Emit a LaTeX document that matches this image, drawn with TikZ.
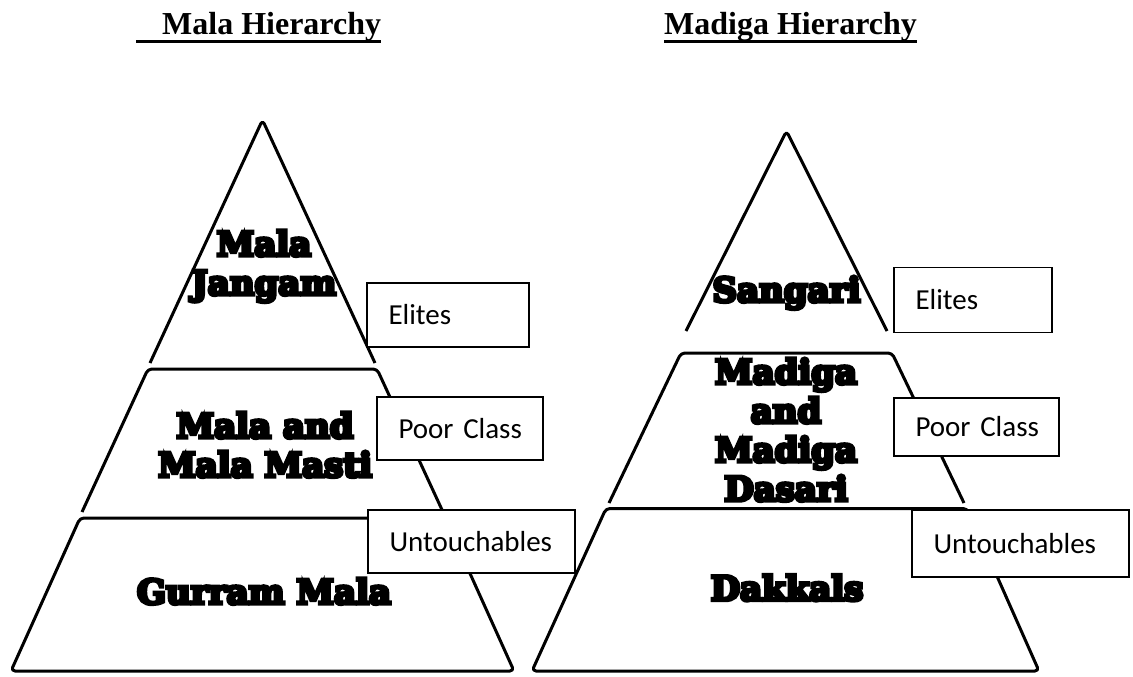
\documentclass[tikz,border=0pt]{standalone}
\usepackage{fontspec}
\setmainfont{Liberation Serif}
\newfontfamily\boxfont{Carlito}
\newfontfamily\heavyfont[FakeBold=10]{DejaVu Serif Bold}
\newcommand{\hdline}[1]{\setbox0=\hbox{#1}\rlap{\rule[-7.5pt]{\wd0}{3pt}}\box0}

\begin{document}
\begin{tikzpicture}[x=1pt,y=-1pt,
  tier/.style={line width=3pt,line join=round,rounded corners=4pt},
  caste/.style={font=\heavyfont\fontsize{34}{39}\selectfont,align=center,anchor=base,inner sep=0pt},
  rank/.style={draw,fill=white,line width=1.2pt,font=\boxfont\fontsize{29}{34}\selectfont,align=left,inner ysep=0pt,inner xsep=21.5pt},
  head/.style={font=\bfseries\fontsize{32}{36}\selectfont,anchor=base west,inner sep=0pt}]
\useasboundingbox (0,0) rectangle (1133,677);

\node[head] (malaT) at (136,35) {\hdline{\hspace*{26pt}Mala Hierarchy}};
\node[head] (madigaT) at (664,35) {\hdline{Madiga Hierarchy}};

\draw[tier] (150,363) -- (262.5,120) -- (375,363);
\draw[tier] (82,512) -- (148,369) -- (377,369) -- (443,512);
\draw[tier] (80,518) -- (445,518) -- (514,671) -- (11,671) -- cycle;

\draw[tier] (686,331) -- (786.5,131) -- (887,331);
\draw[tier] (609,503) -- (681,353) -- (892,353) -- (964,503);
\draw[tier] (606,508.5) -- (967,508.5) -- (1039,671) -- (532,671) -- cycle;

\node[caste] (jangam) at (264,295) {Mala\\Jangam};
\node[caste] (masti) at (265,477) {Mala and\\Mala Masti};
\node[caste] (gurram) at (264,604) {Gurram Mala};
\node[caste] (sangari) at (786.5,302) {Sangari};
\node[caste] (dasari) at (786,501) {Madiga\\and\\Madiga\\Dasari};
\node[caste] (dakkals) at (787,600.5) {Dakkals};

\node[rank,text width=119pt,minimum height=64pt] (eliteA) at (448,315) {\mbox{Elites}};
\node[rank,text width=123pt,minimum height=63pt] (poorA) at (460,428.5) {\mbox{Poor Class}};
\node[rank,text width=164pt,minimum height=63pt] (lowA) at (471.5,541.5) {\mbox{Untouchables}};
\node[rank,text width=115pt,minimum height=64.5pt] (eliteB) at (973,300) {\mbox{Elites}};
\node[rank,text width=122pt,minimum height=58pt] (poorB) at (976.5,427) {\mbox{Poor Class}};
\node[rank,text width=174pt,minimum height=67pt] (lowB) at (1020.5,543.5) {\mbox{Untouchables}};
\end{tikzpicture}
\end{document}
